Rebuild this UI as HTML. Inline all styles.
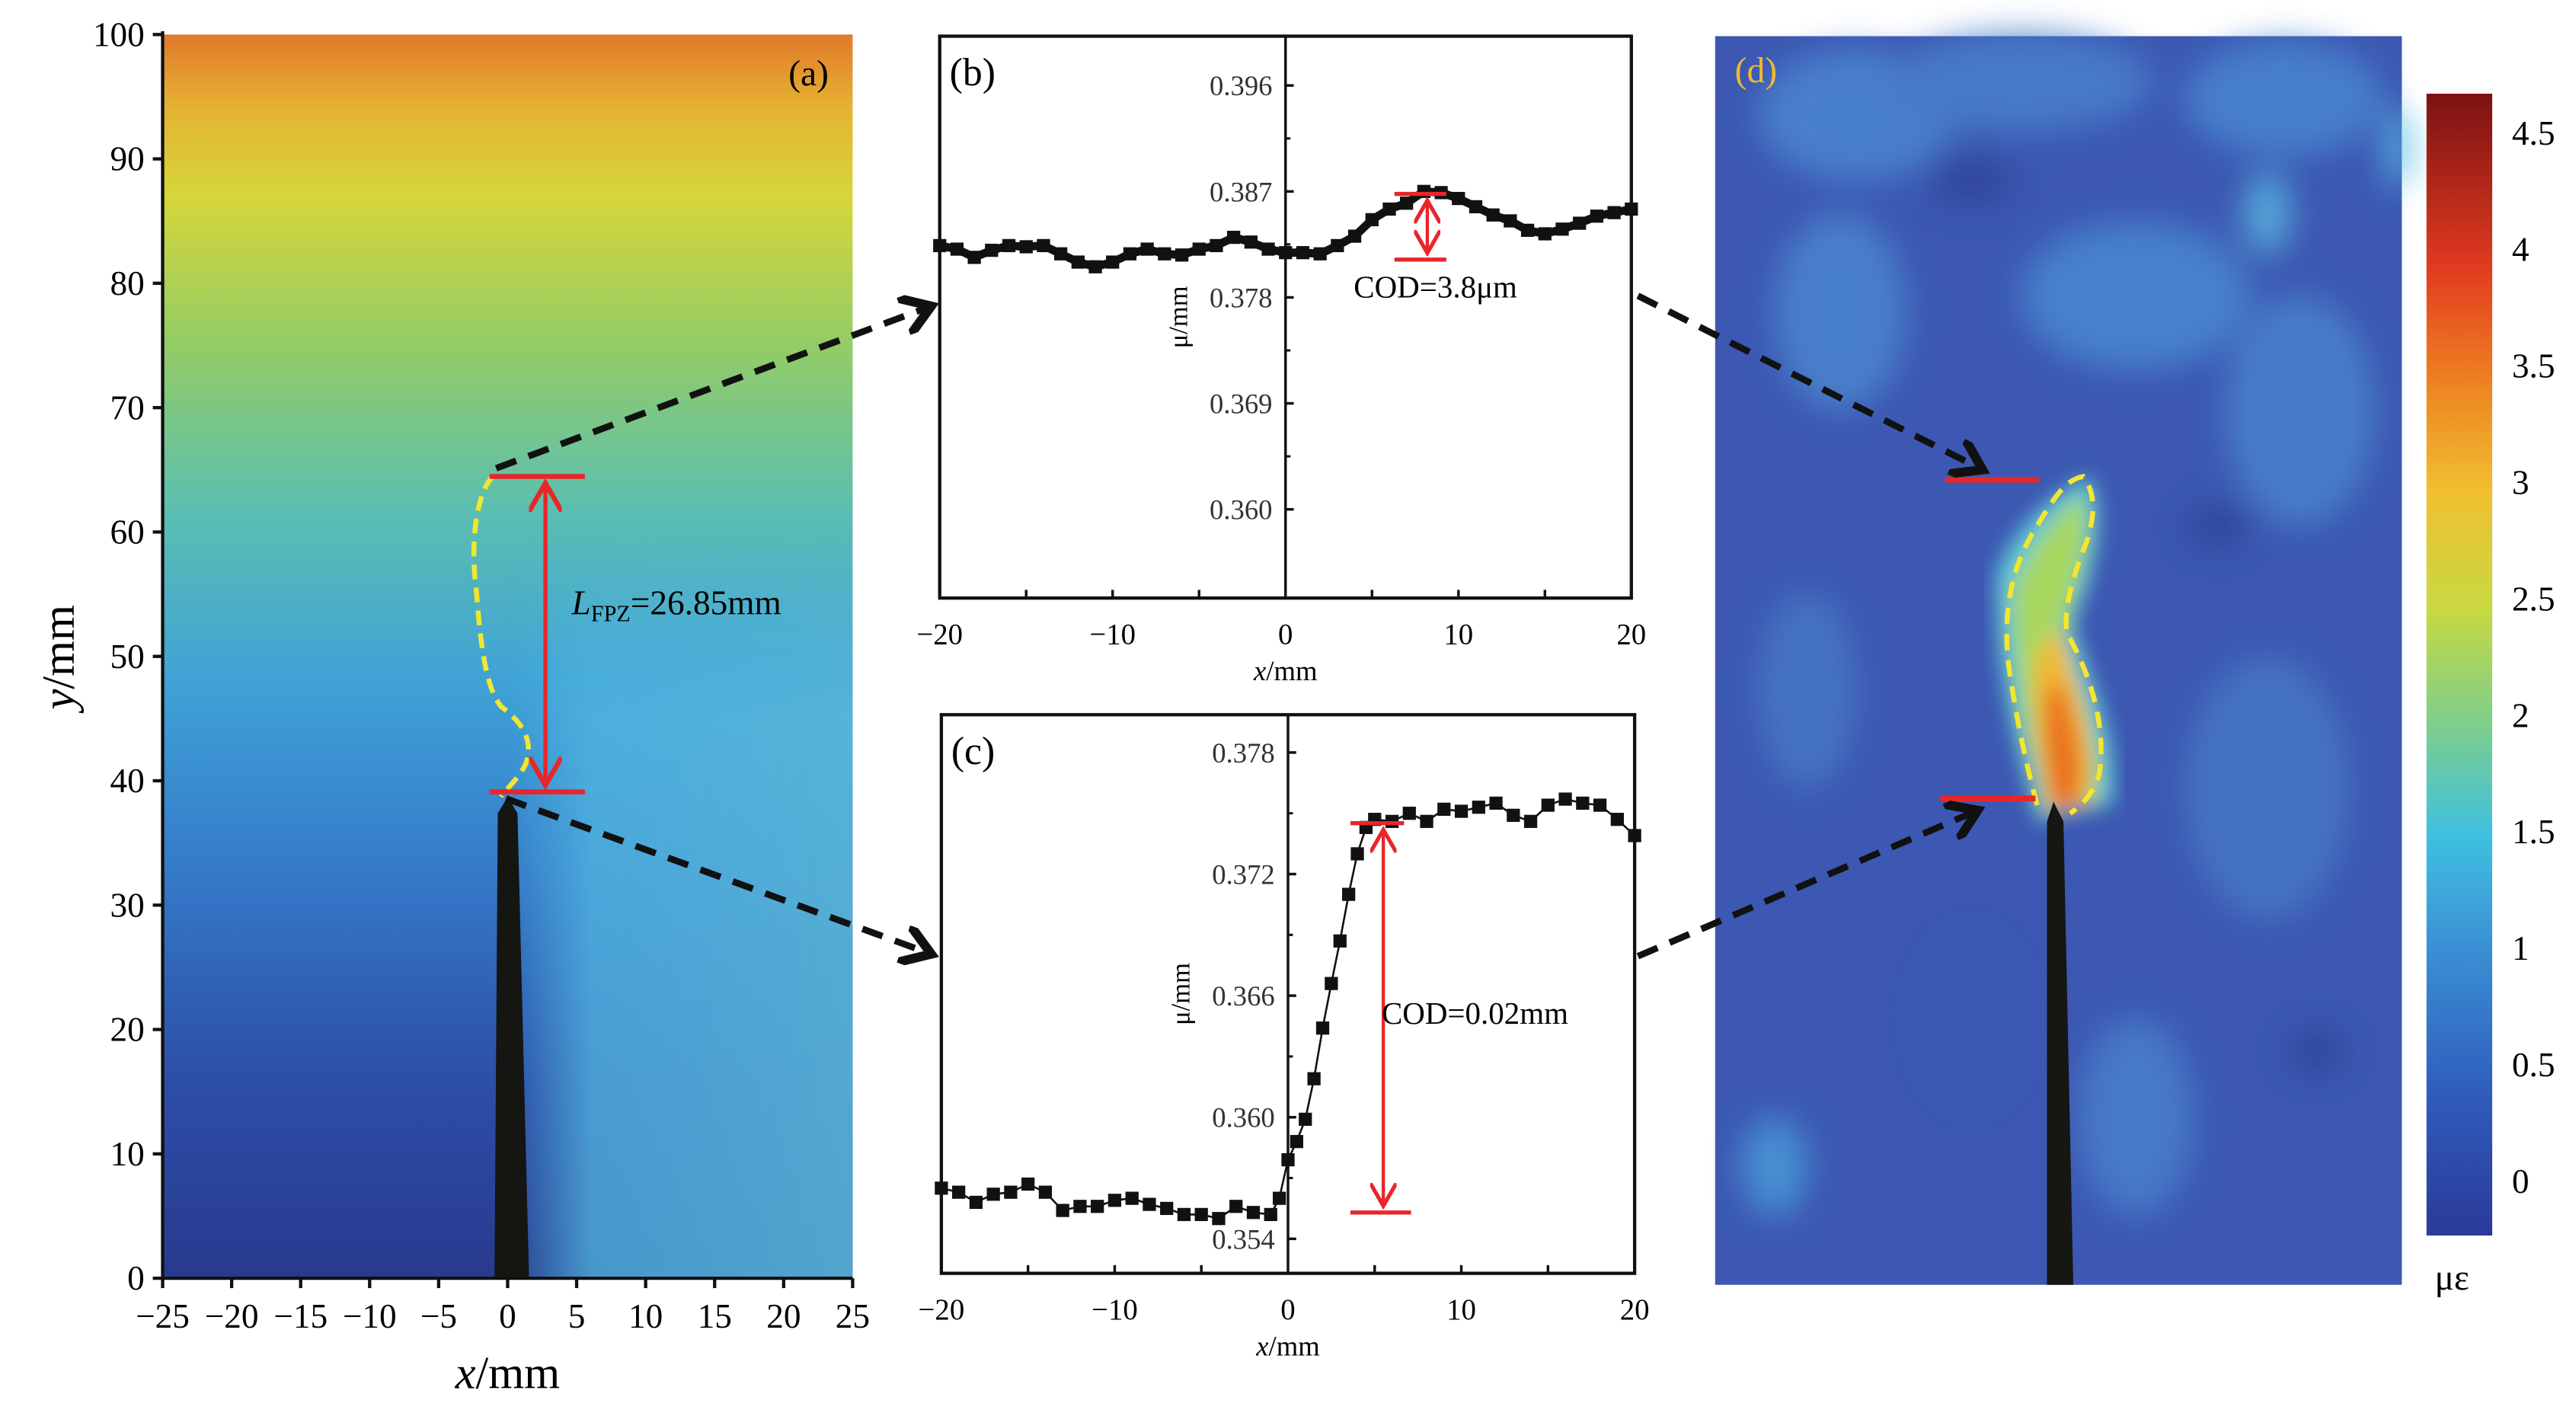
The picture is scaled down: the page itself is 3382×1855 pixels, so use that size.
<!DOCTYPE html>
<html><head><meta charset="utf-8"><style>
html,body{margin:0;padding:0;background:#fff;}
svg{display:block;font-family:"Liberation Serif",serif;}
</style></head><body>
<svg id="fig" width="3382" height="1855" viewBox="0 0 1568 860" xmlns="http://www.w3.org/2000/svg">
<defs>
<linearGradient id="gA" x1="0" y1="0" x2="0" y2="1">
<stop offset="0" stop-color="#e07a2a"/><stop offset="0.06" stop-color="#e5b332"/><stop offset="0.13" stop-color="#d6d63a"/>
<stop offset="0.25" stop-color="#93cc66"/><stop offset="0.38" stop-color="#5cbfb0"/><stop offset="0.52" stop-color="#3fa2d6"/>
<stop offset="0.68" stop-color="#3478c8"/><stop offset="0.84" stop-color="#2d4ea8"/><stop offset="1" stop-color="#283a8e"/>
</linearGradient>
<linearGradient id="gAr" x1="0" y1="0" x2="1" y2="0">
<stop offset="0" stop-color="#4fb8e0" stop-opacity="0"/><stop offset="0.5" stop-color="#4fb8e0" stop-opacity="0.0"/><stop offset="0.62" stop-color="#52b6e0" stop-opacity="0.75"/><stop offset="1" stop-color="#5ab8d8" stop-opacity="0.85"/>
</linearGradient>
<linearGradient id="gArMask" x1="0" y1="0" x2="0" y2="1">
<stop offset="0" stop-color="#fff" stop-opacity="0"/><stop offset="0.4" stop-color="#fff" stop-opacity="0"/><stop offset="0.55" stop-color="#fff" stop-opacity="1"/><stop offset="1" stop-color="#fff" stop-opacity="1"/>
</linearGradient>
<mask id="mA"><rect x="99" y="21" width="420" height="757" fill="url(#gArMask)"/></mask>
<linearGradient id="gCB" x1="0" y1="1" x2="0" y2="0">
<stop offset="0" stop-color="#2b3a98"/><stop offset="0.12" stop-color="#2f5bbb"/><stop offset="0.25" stop-color="#3a8fd4"/>
<stop offset="0.35" stop-color="#3fc0e0"/><stop offset="0.45" stop-color="#7fcf8a"/><stop offset="0.55" stop-color="#c8d840"/>
<stop offset="0.65" stop-color="#f0c030"/><stop offset="0.75" stop-color="#ee8020"/><stop offset="0.85" stop-color="#e03a20"/>
<stop offset="1" stop-color="#7a1212"/>
</linearGradient>
<filter id="blur6"><feGaussianBlur stdDeviation="6"/></filter>
<filter id="blur10"><feGaussianBlur stdDeviation="10"/></filter>
<marker id="ahB" markerWidth="6" markerHeight="6" refX="4" refY="3" orient="auto" markerUnits="strokeWidth"><path d="M0,0 L4.5,3 L0,6" fill="none" stroke="#111" stroke-width="1.4"/></marker>
<marker id="ahR" markerWidth="8" markerHeight="8" refX="7" refY="4" orient="auto-start-reverse" markerUnits="strokeWidth"><path d="M0,0 L7,4 L0,8" fill="none" stroke="#e8262a" stroke-width="1.2"/></marker>
</defs>

<g>
<rect x="99" y="21" width="420" height="757" fill="url(#gA)"/>
<rect x="99" y="21" width="420" height="757" fill="url(#gAr)" mask="url(#mA)"/>
<path d="M301,778 L303,495 L309,485 L315,495 L322,778 Z" fill="#151512"/>
<path d="M300,290 C290,300 286,330 290,360 C293,400 297,420 305,430 C318,440 325,450 320,465 C315,475 308,480 305,485" fill="none" stroke="#f2e630" stroke-width="3" stroke-dasharray="9,5"/>
<line x1="298" y1="290" x2="356" y2="290" stroke="#e8262a" stroke-width="3"/>
<line x1="298" y1="482" x2="356" y2="482" stroke="#e8262a" stroke-width="3"/>
<line x1="332" y1="294" x2="332" y2="478" stroke="#e8262a" stroke-width="2.5" marker-start="url(#ahR)" marker-end="url(#ahR)"/>
<text x="348" y="374" font-size="21" font-style="italic">L<tspan font-size="14" font-style="normal" dy="4">FPZ</tspan><tspan dy="-4" font-style="normal">=26.85mm</tspan></text>
<text x="480" y="52" font-size="22">(a)</text>
<line x1="99" y1="19" x2="99" y2="778" stroke="#111" stroke-width="2"/>
<line x1="99" y1="778" x2="519" y2="778" stroke="#111" stroke-width="2"/>
<g id="aTicks"></g>
<text x="45" y="400" font-size="28" font-style="italic" transform="rotate(-90 45 400)" text-anchor="middle">y<tspan font-style="normal">/mm</tspan></text>
<text x="309" y="845" font-size="28" text-anchor="middle"><tspan font-style="italic">x</tspan>/mm</text>
</g>

<g id="pb"></g>
<g id="pc"></g>

<g>
<rect x="1044" y="22" width="418" height="760" fill="#3c58b2"/>
<g filter="url(#blur10)" opacity="0.85">
<ellipse cx="1130" cy="70" rx="60" ry="40" fill="#4c86d0"/>
<ellipse cx="1230" cy="50" rx="80" ry="30" fill="#4a80cc"/>
<ellipse cx="1390" cy="60" rx="60" ry="35" fill="#4a86d0"/>
<ellipse cx="1120" cy="190" rx="40" ry="60" fill="#4b86cf"/>
<ellipse cx="1300" cy="180" rx="70" ry="45" fill="#4a88d0"/>
<ellipse cx="1400" cy="250" rx="45" ry="70" fill="#4a84cc"/>
<ellipse cx="1100" cy="420" rx="30" ry="60" fill="#4678c4"/>
<ellipse cx="1380" cy="480" rx="50" ry="80" fill="#4678c4"/>
<ellipse cx="1080" cy="710" rx="20" ry="30" fill="#4a9ad8"/>
<ellipse cx="1200" cy="620" rx="30" ry="50" fill="#3a58b0"/>
<ellipse cx="1300" cy="680" rx="35" ry="60" fill="#4a80cc"/>
<ellipse cx="1380" cy="130" rx="14" ry="25" fill="#5ab8e0"/>
<ellipse cx="1460" cy="90" rx="8" ry="25" fill="#5ac0e8"/>
<ellipse cx="1200" cy="110" rx="25" ry="16" fill="#2f4498"/>
<ellipse cx="1350" cy="320" rx="20" ry="14" fill="#2f4498"/>
<ellipse cx="1410" cy="640" rx="18" ry="14" fill="#2f4498"/>
</g>
<g filter="url(#blur6)">
<path d="M1215,350 C1225,320 1250,300 1272,290 C1285,320 1270,360 1262,380 C1270,410 1292,450 1285,490 L1240,500 C1230,460 1215,420 1215,350 Z" fill="#5ec8d8"/>
<path d="M1225,360 C1235,330 1255,310 1268,300 C1275,330 1262,360 1256,385 C1265,420 1282,455 1276,488 L1245,495 C1235,455 1225,420 1225,360 Z" fill="#a8d860"/>
<path d="M1240,400 C1248,380 1256,380 1258,400 C1268,430 1278,460 1270,490 L1248,495 C1240,460 1235,430 1240,400 Z" fill="#f2b830"/>
<path d="M1246,420 C1252,410 1258,420 1262,440 C1268,460 1268,480 1262,492 L1250,494 C1245,470 1243,440 1246,420 Z" fill="#ea7020"/>
</g>
<path d="M1246,782 L1246,500 L1250,488 L1256,500 L1262,782 Z" fill="#161612"/>
<path d="M1240,490 C1232,460 1226,430 1222,400 C1220,370 1224,345 1240,320 C1252,300 1258,292 1268,290 C1276,300 1275,315 1270,330 C1262,350 1256,370 1258,385 C1272,410 1282,440 1278,470 C1276,480 1268,490 1260,495" fill="none" stroke="#f2e630" stroke-width="3" stroke-dasharray="10,6"/>
<line x1="1184" y1="292" x2="1241" y2="292" stroke="#e8262a" stroke-width="3.5"/>
<line x1="1181" y1="486" x2="1239" y2="486" stroke="#e8262a" stroke-width="3.5"/>
<text x="1056" y="50" font-size="22" fill="#f2b830">(d)</text>
<rect x="1477" y="57" width="40" height="695" fill="url(#gCB)"/>
<g id="cbTicks"></g>
<text x="1482" y="785" font-size="22">με</text>
</g>

<g fill="none" stroke="#111" stroke-width="4" stroke-dasharray="13,8">
<line x1="302" y1="285" x2="565" y2="187" marker-end="url(#ahB)"/>
<line x1="308" y1="486" x2="565" y2="580" marker-end="url(#ahB)"/>
<line x1="997" y1="180" x2="1205" y2="285" marker-end="url(#ahB)"/>
<line x1="997" y1="582" x2="1202" y2="494" marker-end="url(#ahB)"/>
</g>
</svg>
<script>
const NS="http://www.w3.org/2000/svg";
const aXTicks=[-25,-20,-15,-10,-5,0,5,10,15,20,25];
const aYTicks=[0,10,20,30,40,50,60,70,80,90,100];
const cbTicks=[0,0.5,1,1.5,2,2.5,3,3.5,4,4.5];
const bX=[-20,-19,-18,-17,-16,-15,-14,-13,-12,-11,-10,-9,-8,-7,-6,-5,-4,-3,-2,-1,0,1,2,3,4,5,6,7,8,9,10,11,12,13,14,15,16,17,18,19,20];
const bY=[0.3824,0.3821,0.3814,0.3820,0.3824,0.3823,0.3824,0.3817,0.3810,0.3806,0.3810,0.3817,0.3821,0.3817,0.3816,0.3821,0.3824,0.3831,0.3827,0.3821,0.3818,0.3818,0.3817,0.3824,0.3832,0.3846,0.3855,0.3860,0.3870,0.3869,0.3864,0.3857,0.3850,0.3845,0.3837,0.3834,0.3838,0.3843,0.3849,0.3852,0.3855];
const bYTicks=[0.360,0.369,0.378,0.387,0.396];
const cX=[-20,-19,-18,-17,-16,-15,-14,-13,-12,-11,-10,-9,-8,-7,-6,-5,-4,-3,-2,-1,-0.5,0,0.5,1,1.5,2,2.5,3,3.5,4,4.5,5,6,7,8,9,10,11,12,13,14,15,16,17,18,19,20];
const cY=[0.3565,0.3563,0.3558,0.3562,0.3563,0.3567,0.3563,0.3554,0.3556,0.3556,0.3559,0.3560,0.3557,0.3555,0.3552,0.3552,0.3550,0.3556,0.3553,0.3552,0.3560,0.3579,0.3588,0.3599,0.3619,0.3644,0.3666,0.3687,0.3710,0.3730,0.3743,0.3747,0.3746,0.3750,0.3746,0.3752,0.3751,0.3753,0.3755,0.3749,0.3746,0.3754,0.3757,0.3755,0.3754,0.3747,0.3739];
const cYTicks=[0.354,0.360,0.366,0.372,0.378];
const xTicksBC=[-20,-10,0,10,20];

function el(tag,attrs,parent,txt){const e=document.createElementNS(NS,tag);for(const k in attrs)e.setAttribute(k,attrs[k]);if(txt!==undefined)e.textContent=txt;parent.appendChild(e);return e;}

const ax=v=>99+(v+25)/50*420, ay=v=>778-v/100*757;
const aT=document.getElementById('aTicks');
aXTicks.forEach(v=>{el('line',{x1:ax(v),y1:778,x2:ax(v),y2:784,stroke:'#111','stroke-width':2},aT);
 const t=el('text',{x:ax(v),y:808,'font-size':21,'text-anchor':'middle'},aT,v<0?'\u2212'+(-v):String(v));
 
 });
aYTicks.forEach(v=>{el('line',{x1:93,y1:ay(v),x2:99,y2:ay(v),stroke:'#111','stroke-width':2},aT);
 const t=el('text',{x:88,y:ay(v)+7,'font-size':21,'text-anchor':'end'},aT,String(v));
 
 });

const cby=v=>718-v/4.5*638;
const cbT=document.getElementById('cbTicks');
cbTicks.forEach(v=>{const t=el('text',{x:1529,y:cby(v)+8,'font-size':21},cbT,String(v));
 
 });

function panel(g,box,xs,ys,yTicks,label,connect){
 const [L,T,R,B,y0,y1]=box;
 const sx=v=>L+(v+20)/40*(R-L);
 const sy=v=>y0+(y1-y0)*(v-yTicks[0])/(yTicks[yTicks.length-1]-yTicks[0]);
 el('rect',{x:L,y:T,width:R-L,height:B-T,fill:'#fff',stroke:'#111','stroke-width':2},g);
 el('line',{x1:sx(0),y1:T,x2:sx(0),y2:B,stroke:'#111','stroke-width':1.6},g);
 [-15,-10,-5,5,10,15].forEach(v=>el('line',{x1:sx(v),y1:B,x2:sx(v),y2:B-5,stroke:'#111','stroke-width':1.6},g));
 xTicksBC.forEach(v=>{const t=el('text',{x:sx(v),y:B+28,'font-size':18,'text-anchor':'middle'},g,v<0?'\u2212'+(-v):String(v));
  
  });
 yTicks.forEach((v,i)=>{el('line',{x1:sx(0),y1:sy(v),x2:sx(0)+5,y2:sy(v),stroke:'#111','stroke-width':1.6},g);
  if(i<yTicks.length-1){const m=(v+yTicks[i+1])/2;el('line',{x1:sx(0),y1:sy(m),x2:sx(0)+3,y2:sy(m),stroke:'#111','stroke-width':1.4},g);}
  const t=el('text',{x:sx(0)-8,y:sy(v)+6,'font-size':17,'text-anchor':'end',fill:'#333'},g,v.toFixed(3));
  
  });
 const ymid=(T+B)/2;
 el('text',{x:sx(0)-60,y:ymid,'font-size':16,'text-anchor':'middle',transform:'rotate(-90 '+(sx(0)-60)+' '+ymid+')'},g,'μ/mm');
 const xt=el('text',{x:sx(0),y:B+50,'font-size':17,'text-anchor':'middle'},g);
 el('tspan',{'font-style':'italic'},xt,'x');el('tspan',{},xt,'/mm');
 el('text',{x:L+6,y:T+30,'font-size':24},g,label);
 const pts=xs.map((x,i)=>sx(x)+','+sy(ys[i])).join(' ');
 const pl=el('polyline',{points:pts,fill:'none',stroke:'#111','stroke-width':connect?1.2:5},g);
 
 
 xs.forEach((x,i)=>{const r=el('rect',{x:sx(x)-4,y:sy(ys[i])-4,width:8,height:8,fill:'#111'},g);
  
  });
 return {sx,sy};
}
const pb=document.getElementById('pb');
const b=panel(pb,[572,22,993,364,310,52],bX,bY,bYTicks,'(b)',false);
el('line',{x1:b.sx(6.3),y1:118,x2:b.sx(9.3),y2:118,stroke:'#e8262a','stroke-width':2.5},pb);
el('line',{x1:b.sx(6.3),y1:158,x2:b.sx(9.3),y2:158,stroke:'#e8262a','stroke-width':2.5},pb);
el('line',{x1:b.sx(8.2),y1:122,x2:b.sx(8.2),y2:154,stroke:'#e8262a','stroke-width':2,'marker-start':'url(#ahR)','marker-end':'url(#ahR)'},pb);
const tb=el('text',{x:824,y:181,'font-size':19},pb,'COD=3.8μm');



const pc=document.getElementById('pc');
const c=panel(pc,[573,435,995,775,754,458],cX,cY,cYTicks,'(c)',true);
el('line',{x1:c.sx(3.6),y1:501,x2:c.sx(6.7),y2:501,stroke:'#e8262a','stroke-width':2.5},pc);
el('line',{x1:c.sx(3.6),y1:738,x2:c.sx(7.1),y2:738,stroke:'#e8262a','stroke-width':2.5},pc);
el('line',{x1:c.sx(5.5),y1:505,x2:c.sx(5.5),y2:734,stroke:'#e8262a','stroke-width':2,'marker-start':'url(#ahR)','marker-end':'url(#ahR)'},pc);
const tc=el('text',{x:841,y:623,'font-size':19},pc,'COD=0.02mm');


</script>
</body></html>
